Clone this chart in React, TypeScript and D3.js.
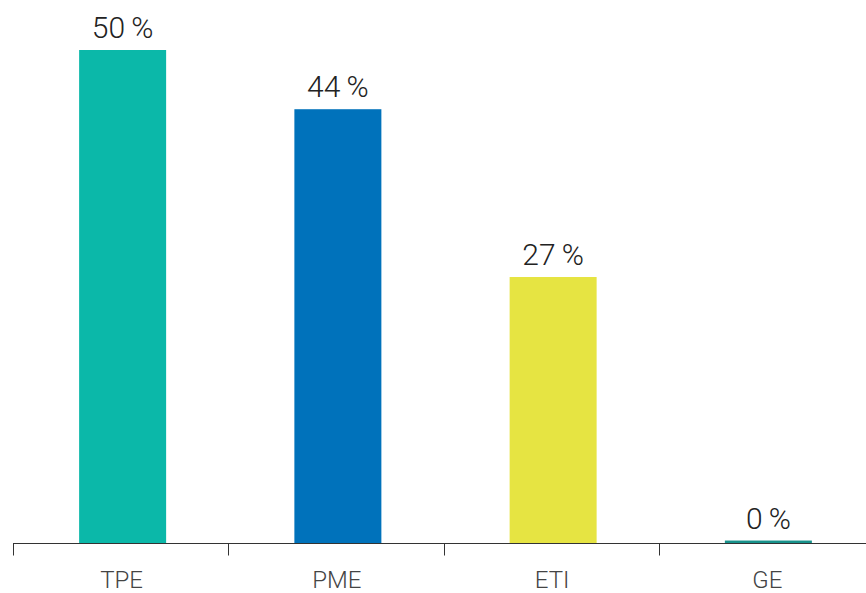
import React, { useEffect, useRef } from "react";
import * as d3 from "d3";

const categories = ["TPE", "PME", "ETI", "GE"];
const values = [50, 44, 27, 0.3];
const valueLabels = ["50\u2009%", "44\u2009%", "27\u2009%", "0\u2009%"];
const colors = ["#0bb8a9", "#0072bb", "#e6e442", "#17928b"];

export default function App() {
    const svgRef = useRef<SVGSVGElement>(null);

    useEffect(() => {
        if (!svgRef.current) return;
        const svg = d3.select(svgRef.current);
        svg.selectAll("*").remove();

        const baseline = 543.5;
        const x0 = 13;
        const x1 = 874;
        const slot = (x1 - x0) / categories.length;
        const barW = 87;
        // bar centres sit slightly right of each slot's middle
        const cx = (c: string) => x0 + slot * categories.indexOf(c) + slot / 2 + 2;

        const y = d3.scaleLinear().domain([0, 50]).range([baseline, 50]);

        const g = svg.append("g");

        g.selectAll("rect.bar")
            .data(categories)
            .enter()
            .append("rect")
            .attr("class", "bar")
            .attr("x", (d) => cx(d) - barW / 2)
            .attr("y", (_, i) => y(values[i]))
            .attr("width", barW)
            .attr("height", (_, i) => baseline - y(values[i]))
            .attr("fill", (_, i) => colors[i]);

        // axis line
        g.append("line")
            .attr("x1", x0)
            .attr("x2", 866)
            .attr("y1", baseline)
            .attr("y2", baseline)
            .attr("stroke", "#333")
            .attr("stroke-width", 1);

        g.selectAll("line.tick")
            .data(categories)
            .enter()
            .append("line")
            .attr("class", "tick")
            .attr("x1", (_, i) => Math.round(x0 + slot * i) + 0.5)
            .attr("x2", (_, i) => Math.round(x0 + slot * i) + 0.5)
            .attr("y1", baseline)
            .attr("y2", baseline + 12)
            .attr("stroke", "#333")
            .attr("stroke-width", 1);

        g.selectAll("text.val")
            .data(categories)
            .enter()
            .append("text")
            .attr("class", "val")
            .attr("x", (d) => cx(d))
            .attr("y", (_, i) => y(values[i]) - 12)
            .attr("text-anchor", "middle")
            .attr("font-family", "Roboto, 'Liberation Sans', sans-serif")
            .attr("font-weight", 300)
            .attr("font-size", 30)
            .attr("fill", "#222")
            .text((_, i) => valueLabels[i]);

        g.selectAll("text.cat")
            .data(categories)
            .enter()
            .append("text")
            .attr("class", "cat")
            .attr("x", (d) => cx(d) - 1)
            .attr("y", 588)
            .attr("text-anchor", "middle")
            .attr("font-family", "Roboto, 'Liberation Sans', sans-serif")
            .attr("font-weight", 300)
            .attr("font-size", 24)
            .attr("fill", "#444")
            .text((d) => d);
    }, []);

    return (
        <svg
            ref={svgRef}
            width={866}
            height={593}
            style={{ position: "absolute", left: 0, top: 0, background: "#fff" }}
        />
    );
}
